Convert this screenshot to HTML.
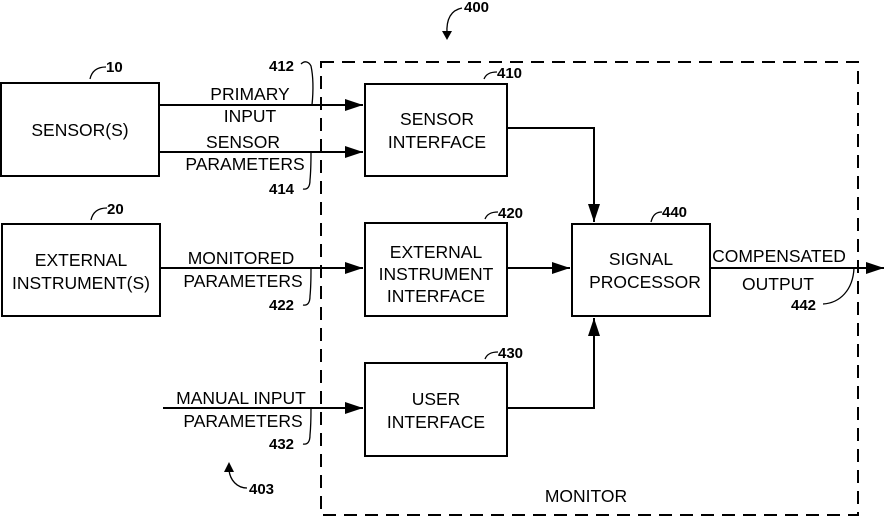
<!DOCTYPE html>
<html><head><style>
body{margin:0;background:#fff}
svg{display:block}
text{font-family:"Liberation Sans",Arial,sans-serif;font-size:17.5px;fill:#000}
.s{font-size:15px;font-weight:bold}
</style></head><body>
<svg width="884" height="517" viewBox="0 0 884 517" xmlns="http://www.w3.org/2000/svg">
<defs><marker id="a" markerWidth="20" markerHeight="12" refX="18" refY="6" orient="auto" markerUnits="userSpaceOnUse"><path d="M0,0 L18,6 L0,12 z" fill="#000"/></marker></defs>
<g fill="none" stroke="#000" stroke-width="2">
<rect x="321" y="62" width="537" height="453" stroke-dasharray="13,8"/>
<rect x="1" y="83" width="158" height="93"/>
<rect x="2" y="224" width="158" height="92"/>
<rect x="365" y="84" width="142" height="92"/>
<rect x="365" y="223" width="142" height="93"/>
<rect x="365" y="363" width="142" height="93"/>
<rect x="572" y="224" width="138" height="92"/>
<line x1="159" y1="105" x2="363" y2="105" marker-end="url(#a)"/>
<line x1="159" y1="152" x2="363" y2="152" marker-end="url(#a)"/>
<line x1="160" y1="268" x2="363" y2="268" marker-end="url(#a)"/>
<line x1="163" y1="408" x2="363" y2="408" marker-end="url(#a)"/>
<polyline points="507,128 594,128 594,222" marker-end="url(#a)"/>
<line x1="507" y1="268" x2="570" y2="268" marker-end="url(#a)"/>
<polyline points="507,408 594,408 594,318" marker-end="url(#a)"/>
<line x1="710" y1="268" x2="884" y2="268" marker-end="url(#a)"/>
<g stroke-width="1.3">
<path d="M90,79 C92,70 98,67 106,67"/>
<path d="M91,220 C93,211 99,208 107,208"/>
<path d="M484,79 C486,74 490,72 497,72"/>
<path d="M485,219 C487,214 491,212 498,212"/>
<path d="M485,359 C487,354 491,352 498,352"/>
<path d="M651,222 C653,214 657,212 662,212"/>
<path d="M301,64 C305,60 309,62 311,66 C314,80 313,95 312,105"/>
<path d="M303,189 C308,190 310,186 310,180 C311,170 311,160 311,152"/>
<path d="M303,305 C308,306 310,302 310,296 C311,286 311,276 311,268"/>
<path d="M303,444 C308,445 310,441 310,435 C311,425 311,415 311,408"/>
<path d="M823,304 C840,303 853,290 854,268"/>
<path d="M462,8 C452,10 446,18 447,34"/>
<path d="M247,488 C237,488 230,480 229,470"/>
</g>
</g>
<path d="M442,31 L447,40 L452,31 z"/>
<path d="M224,472 L229,462 L234,472 z"/>
<g text-anchor="middle">
<text x="80" y="136">SENSOR(S)</text>
<text x="81" y="266">EXTERNAL</text>
<text x="81" y="289">INSTRUMENT(S)</text>
<text x="250" y="100">PRIMARY</text>
<text x="250" y="122">INPUT</text>
<text x="243" y="148">SENSOR</text>
<text x="245" y="170">PARAMETERS</text>
<text x="241" y="264">MONITORED</text>
<text x="243" y="287">PARAMETERS</text>
<text x="241" y="404">MANUAL INPUT</text>
<text x="243" y="427">PARAMETERS</text>
<text x="437" y="125">SENSOR</text>
<text x="437" y="148">INTERFACE</text>
<text x="436" y="258">EXTERNAL</text>
<text x="436" y="280">INSTRUMENT</text>
<text x="436" y="302">INTERFACE</text>
<text x="436" y="405">USER</text>
<text x="436" y="428">INTERFACE</text>
<text x="641" y="265">SIGNAL</text>
<text x="645" y="288">PROCESSOR</text>
<text x="779" y="262">COMPENSATED</text>
<text x="778" y="290">OUTPUT</text>
<text x="586" y="502">MONITOR</text>
</g>
<text class="s" x="106" y="72">10</text>
<text class="s" x="107" y="214">20</text>
<text class="s" x="269" y="71">412</text>
<text class="s" x="269" y="194">414</text>
<text class="s" x="269" y="310">422</text>
<text class="s" x="269" y="449">432</text>
<text class="s" x="497" y="78">410</text>
<text class="s" x="498" y="218">420</text>
<text class="s" x="498" y="358">430</text>
<text class="s" x="662" y="217">440</text>
<text class="s" x="791" y="310">442</text>
<text class="s" x="464" y="12">400</text>
<text class="s" x="249" y="494">403</text>
</svg>
</body></html>
